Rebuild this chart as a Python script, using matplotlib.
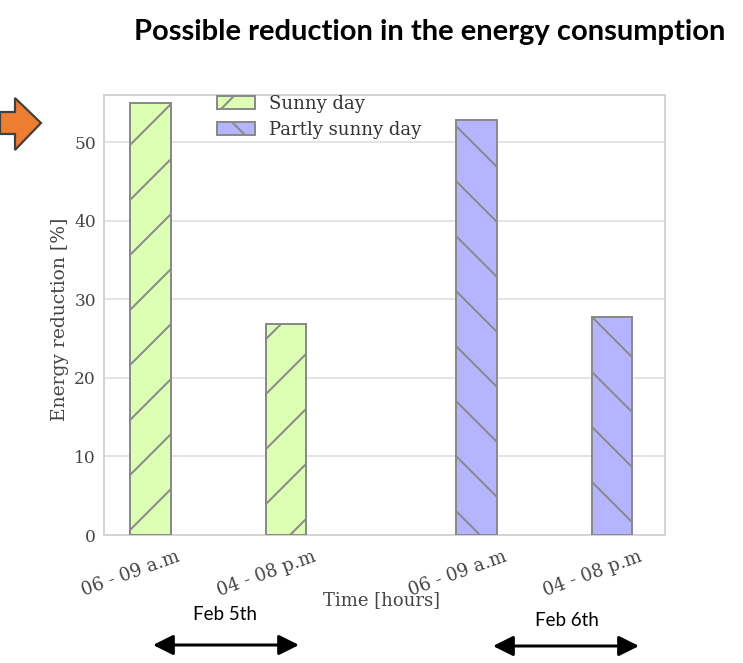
import matplotlib
matplotlib.use("Agg")
import matplotlib.pyplot as plt
import matplotlib.transforms as mtransforms
from matplotlib.patches import Polygon, FancyArrowPatch

# data
tick_labels = ["06 - 09 a.m", "04 - 08 p.m", "06 - 09 a.m", "04 - 08 p.m"]
positions = [0, 1, 2.4, 3.4]
sunny_vals = [55.0, 26.8]
partly_vals = [52.8, 27.7]
day_labels = ["Feb 5th", "Feb 6th"]

# the picture was drawn at a high dpi, that gives the wide hatch spacing
DPI = 165
W, H = 743, 663
k = 100 / DPI  # sizes below are given as if at dpi 100


def px(v):
    # pixels -> points at this dpi
    return v * 72 / DPI


fig = plt.figure(figsize=(W / DPI, H / DPI), dpi=DPI)
ax = fig.add_axes([104 / W, 1 - 535 / H, (665 - 104) / W, (535 - 95) / H])

serif = "DejaVu Serif"
edge = "#8a8a8a"
plt.rcParams["hatch.color"] = edge
plt.rcParams["hatch.linewidth"] = px(2)

ax.bar(positions[:2], sunny_vals, width=0.3, color="#dcffb4", edgecolor=edge,
       linewidth=px(2), hatch="/", label="Sunny day", zorder=3)
ax.bar(positions[2:], partly_vals, width=0.3, color="#b4b4ff", edgecolor=edge,
       linewidth=px(2), hatch="\\", label="Partly sunny day", zorder=3)

ax.set_xlim(-0.34, 3.79)
ax.set_ylim(0, 56)
ax.set_yticks([0, 10, 20, 30, 40, 50])
ax.grid(axis="y", color="#dcdcdc", linewidth=px(1.5), zorder=0)
for s in ax.spines.values():
    s.set_color("#d4d4d4")
    s.set_linewidth(px(2))
ax.tick_params(length=0, labelsize=12.2 * k, labelcolor="#444444", pad=px(8))
ax.tick_params(axis="x", pad=px(13))
for lab in ax.get_yticklabels():
    lab.set_fontfamily(serif)

ax.set_xticks(positions)
ax.set_xticklabels(tick_labels, rotation=20, ha="center", fontfamily=serif,
                   fontsize=13 * k)
offset = mtransforms.ScaledTranslation(-19 / DPI, 0, fig.dpi_scale_trans)
for lab in ax.get_xticklabels():
    lab.set_transform(lab.get_transform() + offset)

ax.set_ylabel("Energy reduction [%]", fontfamily=serif, fontsize=13.5 * k, color="#444444")
ax.set_xlabel("Time [hours]", fontfamily=serif, fontsize=13 * k, color="#444444")
ax.yaxis.set_label_coords(-0.062, 0.49)
ax.xaxis.set_label_coords(0.494, -0.128)

leg = ax.legend(loc="upper left", bbox_to_anchor=(0.2014, 1.0), frameon=False,
                prop={"family": serif, "size": 13 * k}, handlelength=2.1,
                handletextpad=0.8, labelspacing=0.45, borderaxespad=0, borderpad=0)
for t in leg.get_texts():
    t.set_color("#333333")

fig.text(430 / W, 1 - 32 / H, "Possible reduction in the energy consumption",
         ha="center", va="center", fontsize=21 * k, fontweight="bold",
         fontfamily="Lato")

# orange block arrow on the left
arrow_pts = [(0, 112), (15, 112), (15, 98), (41, 123), (15, 150), (15, 134), (0, 134)]
arrow_pts = [(x / W, 1 - y / H) for x, y in arrow_pts]
fig.patches.append(Polygon(arrow_pts, closed=True, facecolor="#ed7d31",
                           edgecolor="#404040", linewidth=px(2.2),
                           transform=fig.transFigure, figure=fig))

# day annotations
fig.text(225 / W, 1 - 615 / H, day_labels[0], ha="center", va="center",
         fontsize=13.5 * k, fontfamily="Lato")
fig.text(567 / W, 1 - 621 / H, day_labels[1], ha="center", va="center",
         fontsize=13.5 * k, fontfamily="Lato")
for x0, x1, y in [(153, 299, 645), (493, 639, 646)]:
    fig.patches.append(FancyArrowPatch((x0 / W, 1 - y / H), (x1 / W, 1 - y / H),
                                       arrowstyle=f"<|-|>,head_length={px(17)},head_width={px(8.5)}",
                                       color="black", linewidth=px(3), shrinkA=0, shrinkB=0,
                                       transform=fig.transFigure, figure=fig))

fig.savefig("out.png", dpi=DPI)
